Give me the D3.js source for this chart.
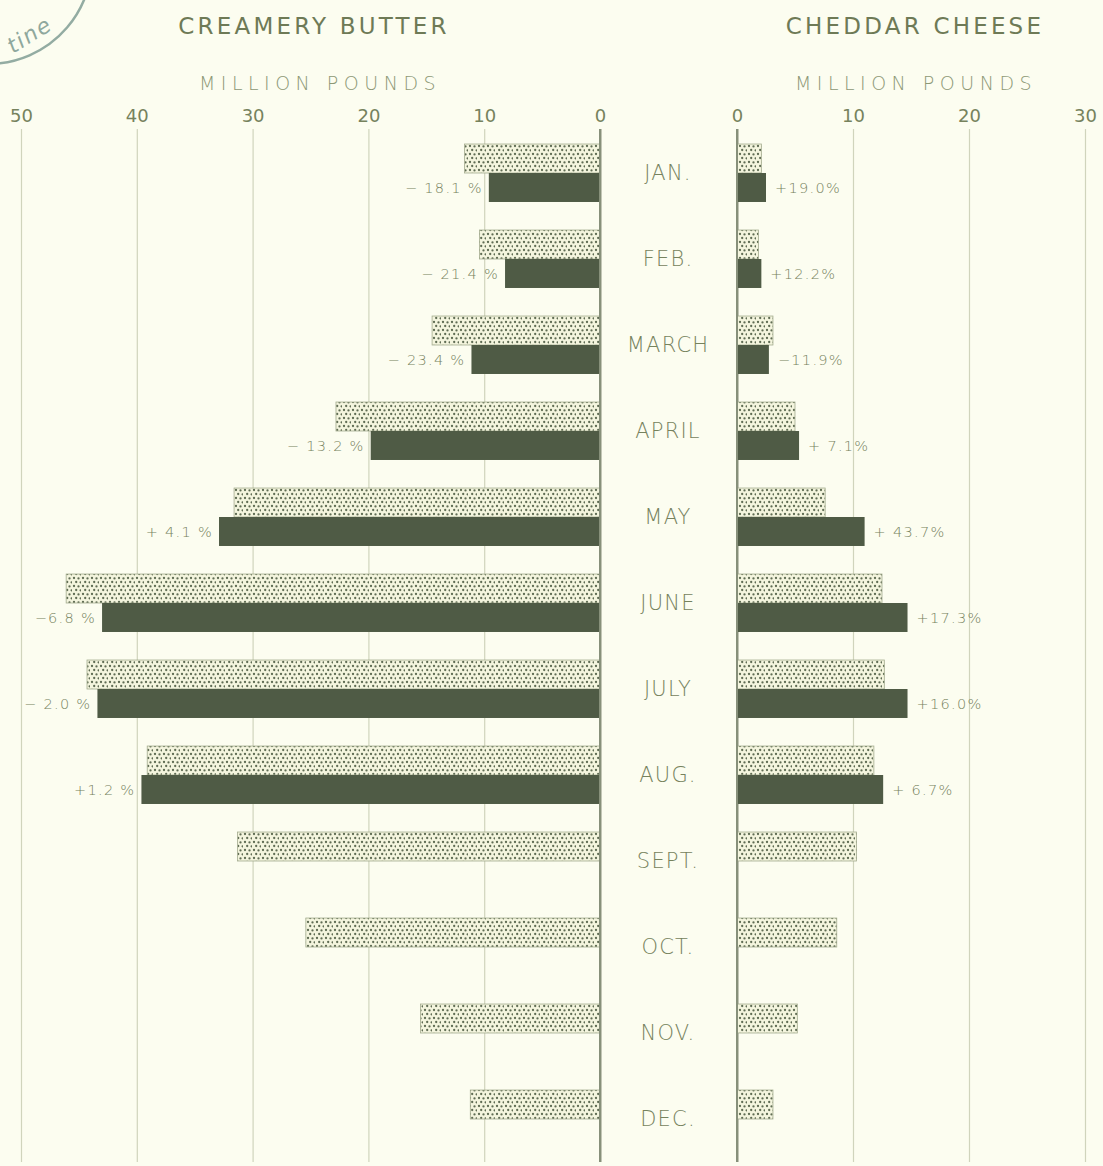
<!DOCTYPE html>
<html>
<head>
<meta charset="utf-8">
<script src="https://cdn.jsdelivr.net/npm/d3@7"></script>
<style>
  html, body { margin: 0; padding: 0; background: #fcfdf0; }
  svg { display: block; }
  text { font-family: "DejaVu Sans", "Liberation Sans", sans-serif; fill: #76825d; }
</style>
</head>
<body>
<svg id="chart" width="1103" height="1166"></svg>
<script>
// ---------- data ----------
const months = ["JAN.", "FEB.", "MARCH", "APRIL", "MAY", "JUNE", "JULY", "AUG.", "SEPT.", "OCT.", "NOV.", "DEC."];
// Creamery butter, million pounds: previous year (dotted) and current year (solid)
const butterPrev = [11.7, 10.4, 14.5, 22.8, 31.6, 46.1, 44.3, 39.1, 31.3, 25.4, 15.5, 11.2];
const butterCurr = [9.6, 8.2, 11.1, 19.8, 32.9, 43.0, 43.4, 39.6, null, null, null, null];
const butterLabels = ["\u2212 18.1 %", "\u2212 21.4 %", "\u2212 23.4 %", "\u2212 13.2 %", "+ 4.1 %", "\u22126.8 %", "\u2212 2.0 %", "+1.2 %", null, null, null, null];
// Cheddar cheese, million pounds
const cheesePrev = [2.1, 1.85, 3.1, 5.0, 7.6, 12.5, 12.7, 11.8, 10.3, 8.6, 5.2, 3.1];
const cheeseCurr = [2.5, 2.1, 2.75, 5.35, 11.0, 14.7, 14.7, 12.6, null, null, null, null];
const cheeseLabels = ["+19.0%", "+12.2%", "\u221211.9%", "+ 7.1%", "+ 43.7%", "+17.3%", "+16.0%", "+ 6.7%", null, null, null, null];
const butterTicks = [50, 40, 30, 20, 10, 0];
const cheeseTicks = [0, 10, 20, 30];

// ---------- layout ----------
const svg = d3.select("#chart");
const ink = "#76825d", dark = "#4f5b45", grid = "#d0d4bc", axisCol = "#87907a";

const xB = d3.scaleLinear().domain([0, 50]).range([600, 21]);
const xC = d3.scaleLinear().domain([0, 30]).range([737, 1085]);
const y = d3.scaleBand().domain(months).range([130, 1162]).paddingInner(0.326).paddingOuter(0.163);
const ySub = d3.scaleBand().domain(["prev", "curr"]).range([0, y.bandwidth()]);

// dotted pattern
const defs = svg.append("defs");
const pat = defs.append("pattern").attr("id", "dots").attr("patternUnits", "userSpaceOnUse")
  .attr("width", 9).attr("height", 8);
pat.append("rect").attr("width", 9).attr("height", 8).attr("fill", "#f4f5de");
[[2, 2], [6.5, 2.4], [4.2, 6], [8.6, 6.3]].forEach(([cx, cy]) =>
  pat.append("circle").attr("cx", cx).attr("cy", cy).attr("r", 1.15).attr("fill", "#5f6c53"));

// stamp in corner
const stamp = svg.append("g");
stamp.append("path")
  .attr("d", d3.arc()({innerRadius: 104, outerRadius: 104, startAngle: Math.PI * 0.45, endAngle: Math.PI * 1.0}))
  .attr("transform", "translate(-12,-40)").attr("fill", "none").attr("stroke", "#93aca2").attr("stroke-width", 2.5);
stamp.append("text").attr("transform", "translate(13,54) rotate(-32)").style("fill", "#8fa89d")
  .attr("font-size", 22).attr("font-style", "italic").attr("letter-spacing", 1.5).text("tine");

// titles
svg.append("text").attr("x", 314).attr("y", 34).attr("text-anchor", "middle")
  .attr("font-size", 23).attr("letter-spacing", 3.2).style("fill", "#6e7a56").text("CREAMERY BUTTER");
svg.append("text").attr("x", 915).attr("y", 34).attr("text-anchor", "middle")
  .attr("font-size", 23).attr("letter-spacing", 3.2).style("fill", "#6e7a56").text("CHEDDAR CHEESE");
svg.append("text").attr("x", 320).attr("y", 90).attr("text-anchor", "middle")
  .attr("font-size", 19).attr("font-weight", 300).attr("letter-spacing", 5.5).style("fill", "#8d9876").text("MILLION POUNDS");
svg.append("text").attr("x", 916).attr("y", 90).attr("text-anchor", "middle")
  .attr("font-size", 19).attr("font-weight", 300).attr("letter-spacing", 5.5).style("fill", "#8d9876").text("MILLION POUNDS");

// axes with gridlines
function drawAxis(scale, ticks) {
  const g = svg.append("g").attr("transform", "translate(0,129)");
  const ax = d3.axisTop(scale).tickValues(ticks).tickSize(0).tickPadding(7).tickFormat(d3.format("d"));
  g.call(ax);
  g.select(".domain").remove();
  g.selectAll(".tick text").attr("font-size", 18).attr("font-family", "'DejaVu Sans', sans-serif").style("fill", ink);
  g.selectAll(".tick").append("line").attr("y1", 0).attr("y2", 1033)
    .attr("stroke", d => d === 0 ? axisCol : grid).attr("stroke-width", d => d === 0 ? 2 : 1.2);
}
drawAxis(xB, butterTicks);
drawAxis(xC, cheeseTicks);

// butter bars
const gB = svg.append("g");
months.forEach((m, i) => {
  const y0 = y(m);
  gB.append("rect").attr("x", xB(butterPrev[i])).attr("y", y0 + ySub("prev"))
    .attr("width", xB(0) - xB(butterPrev[i])).attr("height", ySub.bandwidth())
    .attr("fill", "url(#dots)").attr("stroke", "#a3ab8e").attr("stroke-width", 0.8);
  if (butterCurr[i] != null) {
    gB.append("rect").attr("x", xB(butterCurr[i])).attr("y", y0 + ySub("curr"))
      .attr("width", xB(0) - xB(butterCurr[i])).attr("height", ySub.bandwidth()).attr("fill", dark);
    gB.append("text").attr("x", xB(butterCurr[i]) - 6).attr("y", y0 + ySub("curr") + ySub.bandwidth() / 2)
      .attr("dy", "0.35em").attr("text-anchor", "end").attr("font-size", 14.5).attr("letter-spacing", 1.3)
      .attr("font-weight", 300).text(butterLabels[i]);
  }
});

// cheese bars
const gC = svg.append("g");
months.forEach((m, i) => {
  const y0 = y(m);
  gC.append("rect").attr("x", xC(0)).attr("y", y0 + ySub("prev"))
    .attr("width", xC(cheesePrev[i]) - xC(0)).attr("height", ySub.bandwidth())
    .attr("fill", "url(#dots)").attr("stroke", "#a3ab8e").attr("stroke-width", 0.8);
  if (cheeseCurr[i] != null) {
    gC.append("rect").attr("x", xC(0)).attr("y", y0 + ySub("curr"))
      .attr("width", xC(cheeseCurr[i]) - xC(0)).attr("height", ySub.bandwidth()).attr("fill", dark);
    gC.append("text").attr("x", xC(cheeseCurr[i]) + 9).attr("y", y0 + ySub("curr") + ySub.bandwidth() / 2)
      .attr("dy", "0.35em").attr("text-anchor", "start").attr("font-size", 14.5).attr("letter-spacing", 1.3)
      .attr("font-weight", 300).text(cheeseLabels[i]);
  }
});

// redraw zero axes over bars
[xB(0), xC(0)].forEach(x => svg.append("line").attr("x1", x).attr("x2", x).attr("y1", 129).attr("y2", 1162)
  .attr("stroke", axisCol).attr("stroke-width", 2));

// month labels
svg.append("g").selectAll("text").data(months).join("text")
  .attr("x", 668).attr("y", d => y(d) + ySub.bandwidth())
  .attr("dy", "0.35em").attr("text-anchor", "middle").attr("font-size", 21).attr("font-weight", 300)
  .attr("letter-spacing", 1.2).text(d => d);
</script>
</body>
</html>
